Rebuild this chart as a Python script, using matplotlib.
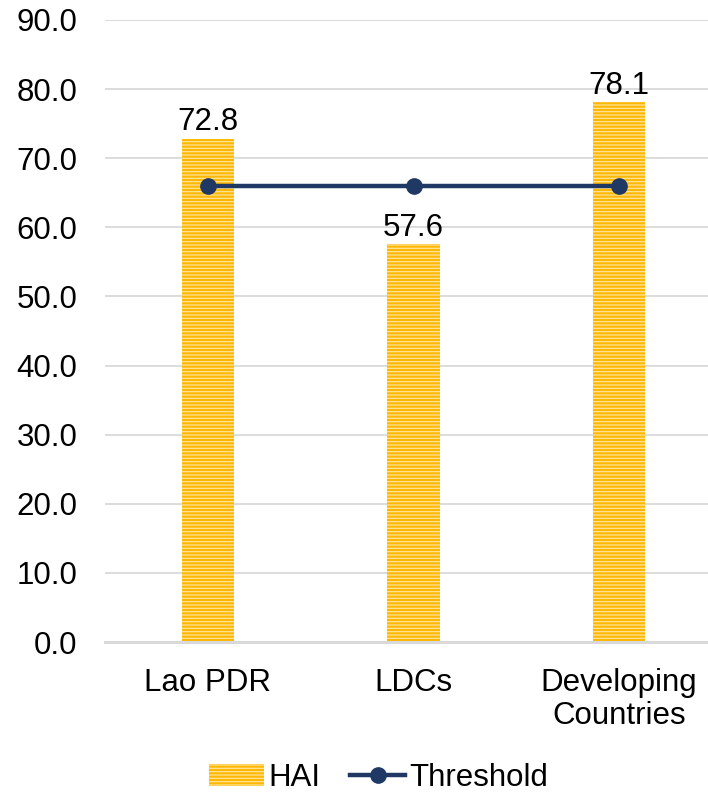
import matplotlib
matplotlib.use('Agg')
import matplotlib.pyplot as plt
from matplotlib.patches import Patch
from matplotlib.lines import Line2D

categories = ['Lao PDR', 'LDCs', 'Developing\nCountries']
hai = [72.8, 57.6, 78.1]
threshold = [66.0, 66.0, 66.0]
yticks = [0, 10, 20, 30, 40, 50, 60, 70, 80, 90]

gold = '#FFB800'
stripe = '#FFE39A'
navy = '#1F3864'
grid_col = '#D9D9D9'
fs = 22.5

plt.rcParams['font.family'] = ['Liberation Sans', 'DejaVu Sans']
plt.rcParams['hatch.linewidth'] = 0.9

fig = plt.figure(figsize=(7.08, 7.93), dpi=100)
ax = fig.add_axes([0.1483, 0.1904, 0.8715, 0.7844])

x = list(range(len(categories)))
bars = ax.bar(x, hai, width=0.253, color=gold, edgecolor=stripe,
              linewidth=0, hatch='-----', zorder=2)
ax.plot(x, threshold, color=navy, linewidth=3.2, marker='o',
        markersize=11, zorder=3)

for xi, v in zip(x, hai):
    ax.annotate('%.1f' % v, (xi, v), xytext=(0, 1), textcoords='offset points',
                ha='center', va='bottom', fontsize=fs)

ax.set_xlim(-0.5, 2.5)
ax.set_ylim(0, 90)
ax.set_yticks(yticks)
ax.set_yticklabels(['%.1f' % t for t in yticks], fontsize=fs)
ax.set_xticks(x)
ax.set_xticklabels(categories, fontsize=fs, linespacing=1.12)
ax.tick_params(axis='both', length=0)
ax.tick_params(axis='y', pad=20)
ax.tick_params(axis='x', pad=19)
ax.yaxis.grid(True, color=grid_col, linewidth=1.3, zorder=0)
ax.set_axisbelow(True)
for s in ['top', 'right', 'left']:
    ax.spines[s].set_visible(False)
ax.spines['bottom'].set_color(grid_col)
ax.spines['bottom'].set_linewidth(2.2)

handles = [Patch(facecolor=gold, edgecolor=stripe, linewidth=0, hatch='-----'),
           Line2D([], [], color=navy, linewidth=3.2, marker='o', markersize=11)]
fig.legend(handles, ['HAI', 'Threshold'], loc='center', bbox_to_anchor=(0.535, 0.019),
           ncol=2, frameon=False, fontsize=fs, handlelength=1.75, handletextpad=0.15,
           columnspacing=0.95)

fig.savefig('out.png', dpi=100)
